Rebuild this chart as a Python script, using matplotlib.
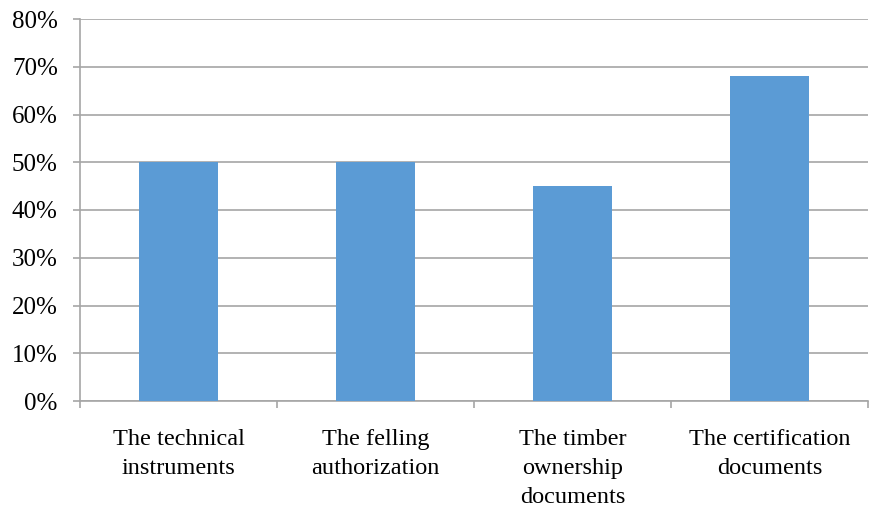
import numpy as np
import matplotlib.pyplot as plt
from matplotlib.ticker import FuncFormatter

# Share of documents checked, by type
categories = ['The technical\ninstruments', 'The felling\nauthorization',
              'The timber\nownership\ndocuments', 'The certification\ndocuments']
shares = [50, 50, 45, 68]

plt.rcParams['font.family'] = ['Liberation Serif', 'DejaVu Serif']

barColor = '#5B9BD5'
gridColor = '#A6A6A6'

fig = plt.figure(figsize=(8.69, 5.08), dpi=100)
ax = fig.add_axes([80 / 869, 1 - 401 / 508, 788 / 869, 382 / 508])

x = np.arange(len(categories))
ax.bar(x, shares, width=0.4, color=barColor, zorder=3)

ax.set_xlim(-0.5, len(categories) - 0.5)
ax.set_ylim(0, 80)
ax.set_yticks(np.arange(0, 81, 10))
ax.yaxis.set_major_formatter(FuncFormatter(lambda v, p: '{:.0f}%'.format(v)))
ax.grid(axis='y', color=gridColor, linewidth=1.2, zorder=0)

# category labels in the middle, boundary ticks between categories
ax.set_xticks(x)
ax.set_xticklabels(categories, fontsize=17.5, linespacing=1.47)
ax.set_xticks(np.arange(-0.5, len(categories)), minor=True)
ax.tick_params(axis='x', which='major', length=0, pad=20.5)
ax.tick_params(axis='x', which='minor', length=5, width=1.2, color=gridColor)
ax.tick_params(axis='y', length=5, width=1.2, color=gridColor, labelsize=18, pad=11)

for side in ['top', 'right']:
    ax.spines[side].set_visible(False)
for side in ['left', 'bottom']:
    ax.spines[side].set_color(gridColor)
    ax.spines[side].set_linewidth(1.2)

fig.savefig('out.png', dpi=100)
